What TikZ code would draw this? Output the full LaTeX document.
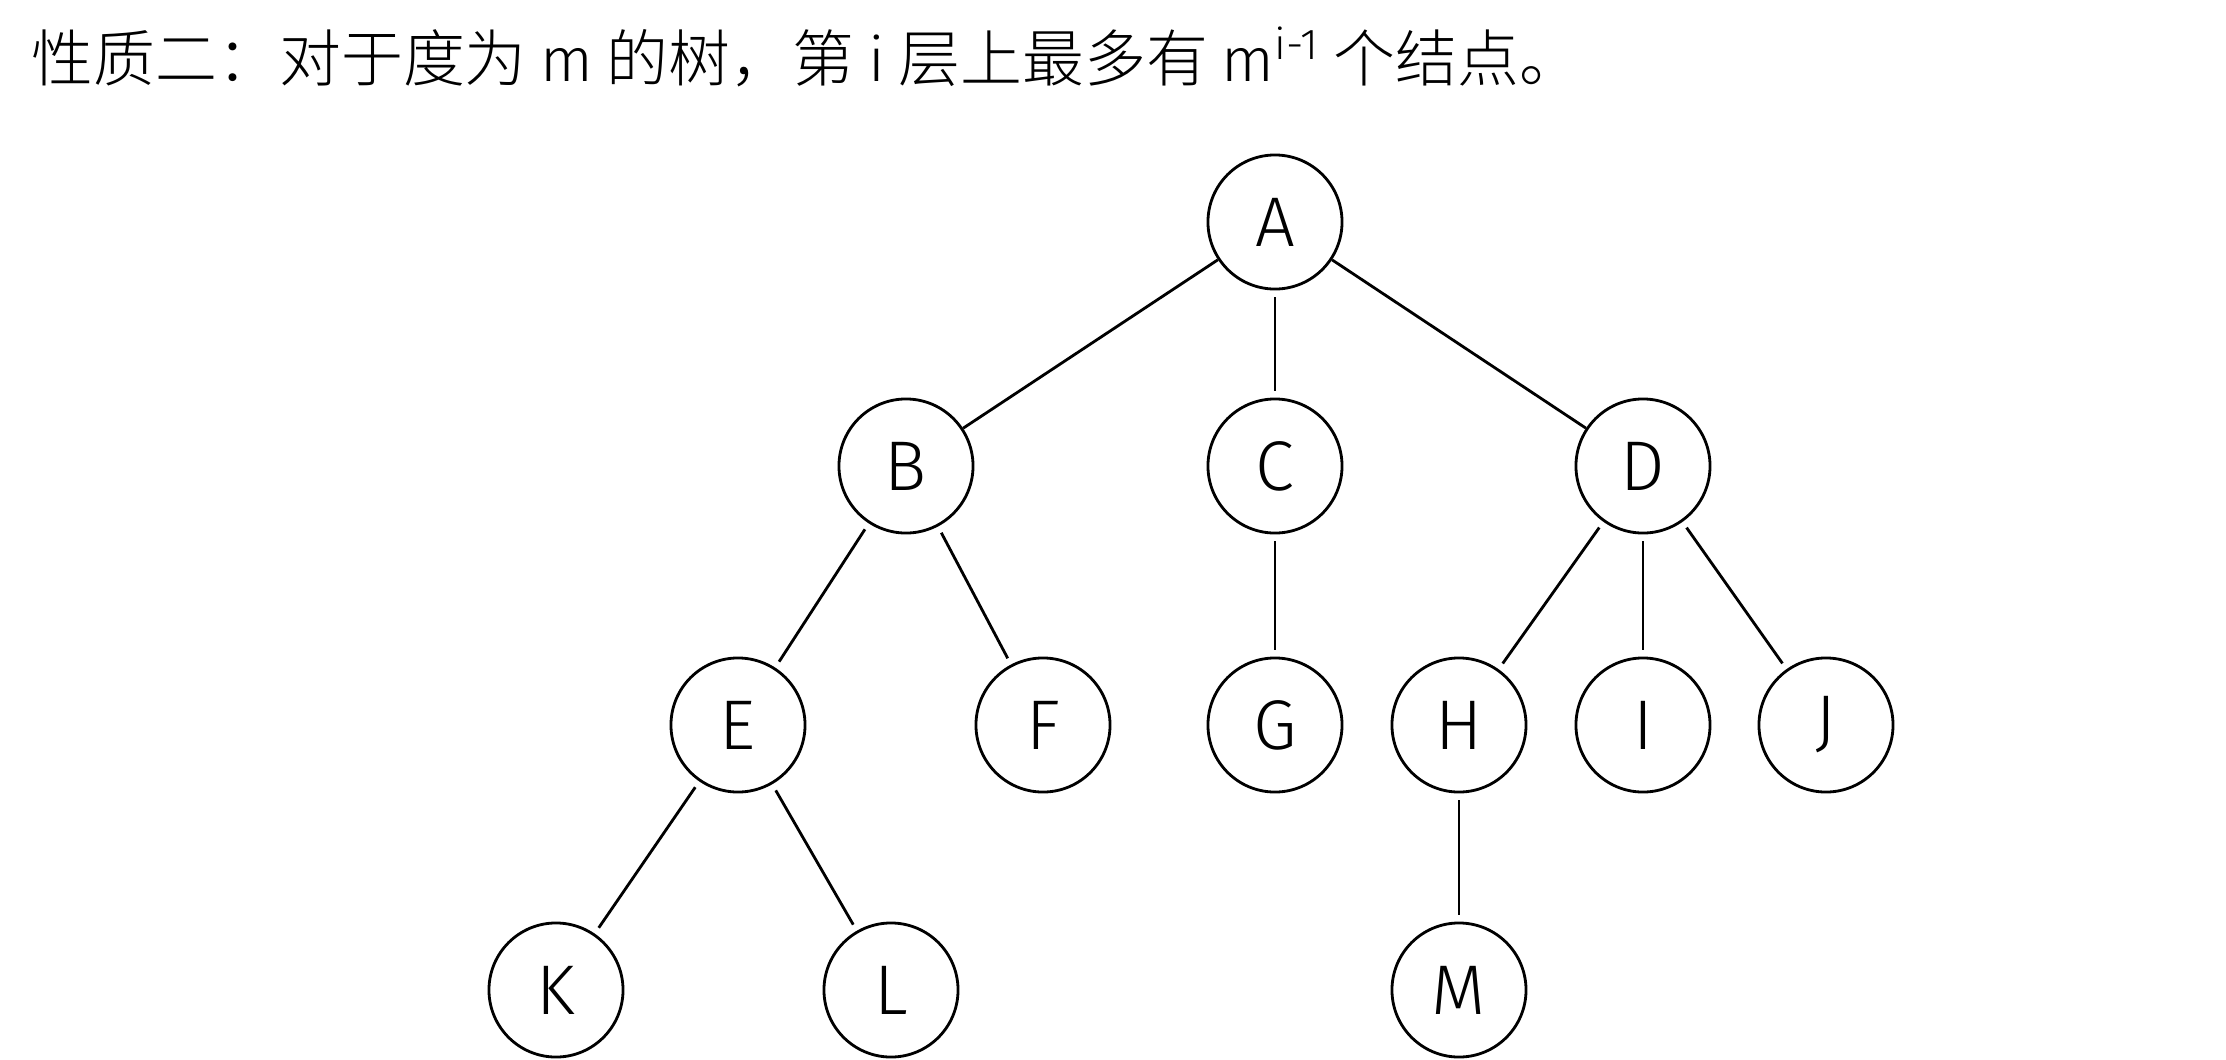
\documentclass[tikz,border=0pt]{standalone}
\usepackage{fontspec}
\setmainfont{Fira Sans Light}
\newfontfamily\cjk{Noto Sans CJK SC Light}
\begin{document}
\begin{tikzpicture}[x=0.01cm,y=-0.01cm,
  tnode/.style={circle,draw,line width=0.8pt,minimum size=1.34cm,inner sep=0pt,font=\fontsize{20pt}{22pt}\selectfont},
  edge/.style={line width=0.8pt,shorten <=2pt,shorten >=2pt}]
\useasboundingbox (0,0) rectangle (2226,1060);
\node[anchor=west,inner sep=0pt,font=\fontsize{17.6pt}{20pt}\selectfont] (title) at (31,57)
  {\cjk 性质二：对于度为 {\normalfont m} 的树，第 {\normalfont i} 层上最多有 {\normalfont m\textsuperscript{i-1}} 个结点。};
\node[tnode] (A) at (1275,222) {A};
\node[tnode] (B) at (906,466) {B};
\node[tnode] (C) at (1275,466) {C};
\node[tnode] (D) at (1643,466) {D};
\node[tnode] (E) at (738,725) {E};
\node[tnode] (F) at (1043,725) {F};
\node[tnode] (G) at (1275,725) {G};
\node[tnode] (H) at (1459,725) {H};
\node[tnode] (I) at (1643,725) {I};
\node[tnode] (J) at (1826,725) {J};
\node[tnode] (K) at (556,990) {K};
\node[tnode] (L) at (891,990) {L};
\node[tnode] (M) at (1459,990) {M};
\draw[edge,shorten <=0pt,shorten >=0pt] (A) -- (B);
\draw[edge] (A) -- (C);
\draw[edge,shorten <=0pt,shorten >=0pt] (A) -- (D);
\draw[edge] (B) -- (E);
\draw[edge] (B) -- (F);
\draw[edge] (C) -- (G);
\draw[edge] (D) -- (H);
\draw[edge] (D) -- (I);
\draw[edge] (D) -- (J);
\draw[edge] (E) -- (K);
\draw[edge] (E) -- (L);
\draw[edge] (H) -- (M);
\end{tikzpicture}
\end{document}
